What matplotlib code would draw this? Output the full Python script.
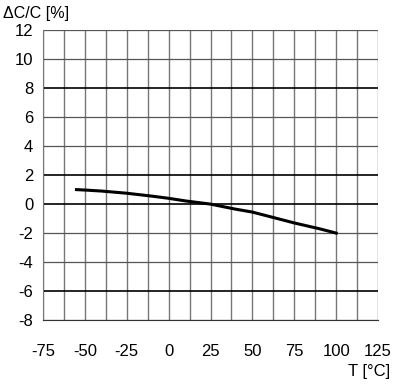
import matplotlib
matplotlib.use("Agg")
import matplotlib.pyplot as plt
import numpy as np

plt.rcParams["font.family"] = ["Liberation Sans", "DejaVu Sans"]
plt.rcParams["axes.unicode_minus"] = False

temp = [-55, -50, -40, -25, -10, 0, 10, 25, 40, 50, 60, 75, 90, 100]
dcc = [1.0, 0.97, 0.9, 0.75, 0.55, 0.4, 0.22, 0.0, -0.35, -0.55, -0.85, -1.3, -1.7, -2.0]

xticks = [-75, -50, -25, 0, 25, 50, 75, 100, 125]
yticks = [-8, -6, -4, -2, 0, 2, 4, 6, 8, 10, 12]
thick_y = [-6, 0, 2, 8]

fig = plt.figure(figsize=(4, 3.87), dpi=100)
ax = fig.add_axes([0.1075, 0.173, 0.8375, 0.749])

for x in np.arange(-75, 125.1, 12.5):
    ax.axvline(x, color="#777777", lw=1.0, zorder=1)
for y in yticks:
    if y in thick_y:
        ax.axhline(y, color="black", lw=1.2, zorder=1)
    else:
        ax.axhline(y, color="#555555", lw=0.9, zorder=1)

ax.plot(temp, dcc, color="black", lw=2.2, zorder=3)

ax.set_xlim(-75, 125)
ax.set_ylim(-8, 12)
ax.set_xticks(xticks)
ax.set_yticks(yticks)
ax.tick_params(length=0, labelsize=12)
ax.tick_params(axis="x", pad=17)
ax.tick_params(axis="y", pad=7)
for s in ax.spines.values():
    s.set_visible(False)
ax.spines["left"].set_visible(True)
ax.spines["bottom"].set_visible(True)
ax.spines["left"].set_color("#777777")
ax.spines["bottom"].set_color("#333333")

fig.text(0.008, 0.965, "ΔC/C [%]", fontsize=11.5, ha="left", va="center")
fig.text(0.975, 0.04, "T [°C]", fontsize=12, ha="right", va="center")

fig.savefig("out.png", dpi=100)
